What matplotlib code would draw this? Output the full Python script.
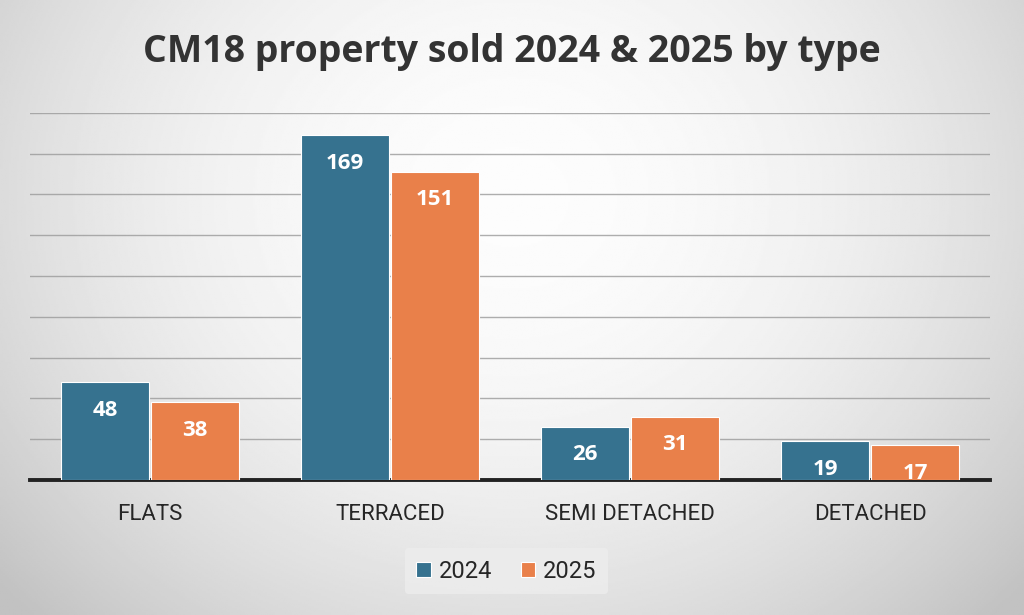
import matplotlib
matplotlib.use("Agg")
import matplotlib.pyplot as plt
import numpy as np

categories = ["FLATS", "TERRACED", "SEMI DETACHED", "DETACHED"]
years = ["2024", "2025"]
sold_2024 = [48, 169, 26, 19]
sold_2025 = [38, 151, 31, 17]

BLUE = "#36728f"
ORANGE = "#e9804a"

fig = plt.figure(figsize=(10.24, 6.15), dpi=100)

# soft radial background
bg = fig.add_axes([0, 0, 1, 1], zorder=-10)
yy, xx = np.mgrid[0:1:300j, 0:1:500j]
r = np.sqrt(((xx - 0.5) / 0.62) ** 2 + ((yy - 0.32) / 0.9) ** 2)
shade = np.clip(0.99 - 0.2 * r ** 2, 0.76, 1.0)
bg.imshow(shade, cmap="gray", vmin=0, vmax=1, extent=[0, 1, 0, 1],
          aspect="auto", origin="upper")
bg.axis("off")

ax = fig.add_axes([0.0293, 0.2195, 0.9375, 0.5972])
ax.patch.set_alpha(0)
x = np.arange(len(categories))
w = 0.37
off = 0.1875
b1 = ax.bar(x - off, sold_2024, w, color=BLUE, edgecolor="white", lw=0.8,
            label=years[0], zorder=3)
b2 = ax.bar(x + off, sold_2025, w, color=ORANGE, edgecolor="white", lw=0.8,
            label=years[1], zorder=3)

for bars in (b1, b2):
    for rect in bars:
        h = rect.get_height()
        ax.annotate(f"{h:.0f}", (rect.get_x() + rect.get_width() / 2, h),
                    xytext=(0, -28), textcoords="offset pixels",
                    ha="center", va="center", color="white", fontsize=16,
                    fontweight="bold", family="Open Sans", zorder=4)

ax.set_xlim(-0.5, 3.5)
ax.set_ylim(0, 180)
ax.set_yticks(np.arange(20, 181, 20))
ax.yaxis.grid(True, color="#9a9a9a", lw=1.0, alpha=0.8)
ax.set_axisbelow(True)
ax.tick_params(axis="y", left=False, labelleft=False)
ax.tick_params(axis="x", length=0, pad=17)
ax.set_xticks(x)
ax.set_xticklabels(categories, fontsize=16, color="#262626", family="Roboto")
for s in ("top", "right", "left"):
    ax.spines[s].set_visible(False)
ax.spines["bottom"].set_color("#222222")
ax.spines["bottom"].set_linewidth(2.8)

leg = fig.legend(loc="center", bbox_to_anchor=(0.4946, 0.0715), ncol=2,
                 frameon=True, handlelength=0.6, handleheight=0.6,
                 handletextpad=0.35, columnspacing=1.2, borderpad=0.5,
                 borderaxespad=0, prop={"family": "Roboto", "size": 17})
leg.get_frame().set_facecolor("#ececec")
leg.get_frame().set_edgecolor("none")
leg.get_frame().set_alpha(0.9)
for t in leg.get_texts():
    t.set_color("#262626")

fig.text(0.5, 0.915, "CM18 property sold 2024 & 2025 by type", ha="center",
         va="center", fontsize=27, fontweight="bold", color="#333333",
         family="Open Sans")

fig.savefig("out.png", dpi=100)
